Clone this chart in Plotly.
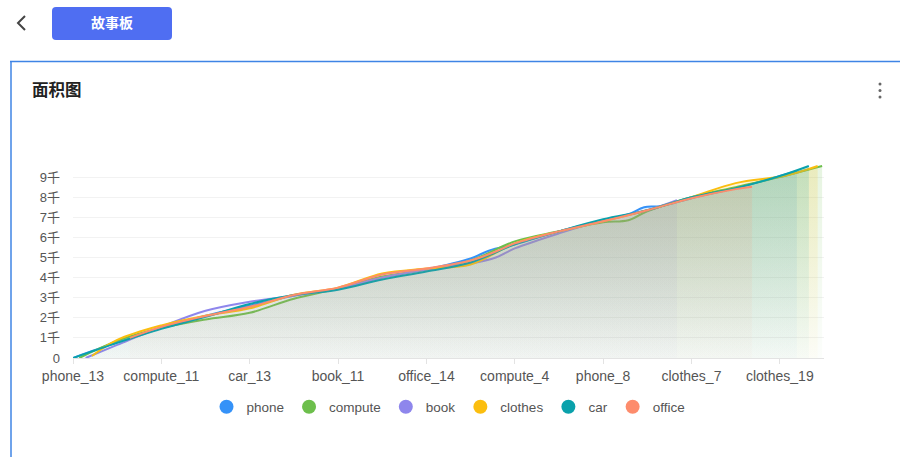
import plotly.graph_objects as go

# Category positions along the x axis and the labels shown on it
tick_pos = [0, 14, 28, 42, 56, 70, 84, 98, 112]
tick_labels = ["phone_13", "compute_11", "car_13", "book_11", "office_14",
               "compute_4", "phone_8", "clothes_7", "clothes_19"]

# Running totals per series (x = category index, y = value)
phone_x = [0, 7, 14, 21, 28, 35, 42, 49, 56, 63, 66, 70, 77, 84, 88, 90.5, 93, 98, 105, 112, 114.7]
phone_y = [0, 780, 1500, 2100, 2600, 3100, 3450, 4000, 4400, 4950, 5350, 5650, 6300, 6850, 7150, 7500, 7550, 7950, 8450, 9050, 9300]

compute_x = [1, 7, 14, 21, 28, 35, 42, 49, 56, 63, 70, 77, 84, 88, 91, 98, 105, 112, 118.7]
compute_y = [0, 850, 1500, 1920, 2250, 2950, 3450, 4050, 4400, 4850, 5800, 6300, 6750, 6850, 7300, 8000, 8500, 9000, 9550]

book_x = [2, 7, 14, 21, 28, 35, 42, 49, 56, 63, 67, 70, 77, 84, 91, 95.7]
book_y = [0, 650, 1550, 2350, 2800, 3100, 3450, 4000, 4400, 4700, 5000, 5450, 6200, 6850, 7350, 7850]

clothes_x = [3, 7, 14, 21, 28, 35, 42, 49, 56, 63, 70, 77, 84, 91, 98, 105, 113, 118]
clothes_y = [100, 900, 1620, 2100, 2470, 3150, 3500, 4200, 4450, 4650, 5700, 6300, 6800, 7350, 8000, 8700, 9080, 9550]

car_x = [0, 7, 14, 21, 28, 35, 42, 49, 56, 63, 70, 77, 84, 91, 98, 105, 112, 116.6]
car_y = [0, 750, 1450, 2050, 2690, 3130, 3400, 3900, 4300, 4750, 5650, 6300, 6900, 7350, 8000, 8450, 9050, 9550]

office_x = [9, 14, 21, 28, 35, 42, 49, 56, 63, 67, 70, 77, 84, 91, 98, 105, 107.6]
office_y = [1000, 1550, 2090, 2550, 3130, 3500, 4150, 4450, 4850, 5300, 5700, 6300, 6800, 7350, 7950, 8400, 8520]

series = [
    ("phone", phone_x, phone_y, (53, 146, 248)),
    ("compute", compute_x, compute_y, (109, 191, 76)),
    ("book", book_x, book_y, (142, 134, 236)),
    ("clothes", clothes_x, clothes_y, (251, 190, 15)),
    ("car", car_x, car_y, (10, 161, 171)),
    ("office", office_x, office_y, (253, 140, 108)),
]

y_ticks = [0, 1000, 2000, 3000, 4000, 5000, 6000, 7000, 8000, 9000]
y_tick_labels = ["0", "1千", "2千", "3千", "4千", "5千", "6千", "7千", "8千", "9千"]

W, H = 900, 457
L, R, T, B = 73, 76, 164, 99
PW, PH = W - L - R, H - T - B
FONT = "Liberation Sans, Noto Sans CJK SC, sans-serif"


def px(x):
    return (x - L) / PW


def py(y):
    return (H - B - y) / PH


fig = go.Figure()

for name, xs, ys, (r, g, b) in series:
    fig.add_trace(go.Scatter(
        x=xs, y=ys, name=name, mode="lines",
        line=dict(color=f"rgb({r},{g},{b})", width=2, shape="spline", smoothing=1.0),
        fill="tozeroy",
        fillgradient=dict(
            type="vertical", start=0, stop=9600,
            colorscale=[[0, f"rgba({r},{g},{b},0.02)"], [1, f"rgba({r},{g},{b},0.17)"]],
        ),
        showlegend=False, hoverinfo="x+y+name",
    ))

# Legend entries drawn as round markers
for name, xs, ys, (r, g, b) in series:
    fig.add_trace(go.Scatter(
        x=[None], y=[None], name=name, mode="markers",
        marker=dict(color=f"rgb({r},{g},{b})", size=14, symbol="circle"),
        showlegend=True,
    ))

shapes = []
# Back chevron
shapes.append(dict(type="path", xref="paper", yref="paper",
                   path=f"M {px(25)} {py(16)} L {px(18)} {py(23)} L {px(25)} {py(30)}",
                   line=dict(color="#444", width=2)))
# Story board button (rounded)
x0, x1, y0, y1, rr = 52, 172, 7, 40, 4
path = (f"M {px(x0+rr)} {py(y0)} L {px(x1-rr)} {py(y0)} Q {px(x1)} {py(y0)} {px(x1)} {py(y0+rr)} "
        f"L {px(x1)} {py(y1-rr)} Q {px(x1)} {py(y1)} {px(x1-rr)} {py(y1)} "
        f"L {px(x0+rr)} {py(y1)} Q {px(x0)} {py(y1)} {px(x0)} {py(y1-rr)} "
        f"L {px(x0)} {py(y0+rr)} Q {px(x0)} {py(y0)} {px(x0+rr)} {py(y0)} Z")
shapes.append(dict(type="path", xref="paper", yref="paper", path=path,
                   fillcolor="#4f6ef2", line=dict(width=0)))
# Card border (top and left edges)
shapes.append(dict(type="line", xref="paper", yref="paper",
                   x0=px(10), x1=px(900), y0=py(61.5), y1=py(61.5),
                   line=dict(color="#3f84e5", width=1.5)))
shapes.append(dict(type="line", xref="paper", yref="paper",
                   x0=px(11), x1=px(11), y0=py(61), y1=py(457),
                   line=dict(color="#3f84e5", width=1.5)))
# Menu dots
for yy in (84, 90.5, 97):
    shapes.append(dict(type="circle", xref="paper", yref="paper",
                       x0=px(878.5), x1=px(881.5), y0=py(yy - 1.5), y1=py(yy + 1.5),
                       fillcolor="#666", line=dict(width=0)))

annotations = [
    dict(text="<b>故事板</b>", xref="paper", yref="paper", x=px(112), y=py(23.5),
         showarrow=False, font=dict(family=FONT, size=14, color="white"),
         xanchor="center", yanchor="middle"),
    dict(text="<b>面积图</b>", xref="paper", yref="paper", x=px(30), y=py(90),
         showarrow=False, font=dict(family=FONT, size=16.5, color="#222"),
         xanchor="left", yanchor="middle"),
]

fig.update_layout(
    width=W, height=H,
    margin=dict(l=L, r=R, t=T, b=B, pad=0),
    paper_bgcolor="white", plot_bgcolor="white",
    font=dict(family=FONT, size=13, color="#555"),
    shapes=shapes, annotations=annotations,
    showlegend=True,
    legend=dict(orientation="h", x=0.5, xanchor="center", y=py(407), yanchor="middle",
                font=dict(family=FONT, size=13.5, color="#555"), itemwidth=30,
                tracegroupgap=0, bgcolor="rgba(0,0,0,0)"),
    xaxis=dict(range=[0, 119], tickvals=tick_pos, ticktext=tick_labels,
               showgrid=False, zeroline=False, showline=True, linecolor="#e3e3e3",
               ticks="outside", ticklen=5, tickcolor="#e3e3e3",
               tickfont=dict(family=FONT, size=14, color="#555")),
    yaxis=dict(range=[0, 9650], tickvals=y_ticks, ticktext=y_tick_labels,
               showgrid=True, gridcolor="#f2f2f2", zeroline=False, showline=False,
               ticks="", ticklabelstandoff=12,
               tickfont=dict(family=FONT, size=13, color="#555")),
)

fig.write_html("out.html")
